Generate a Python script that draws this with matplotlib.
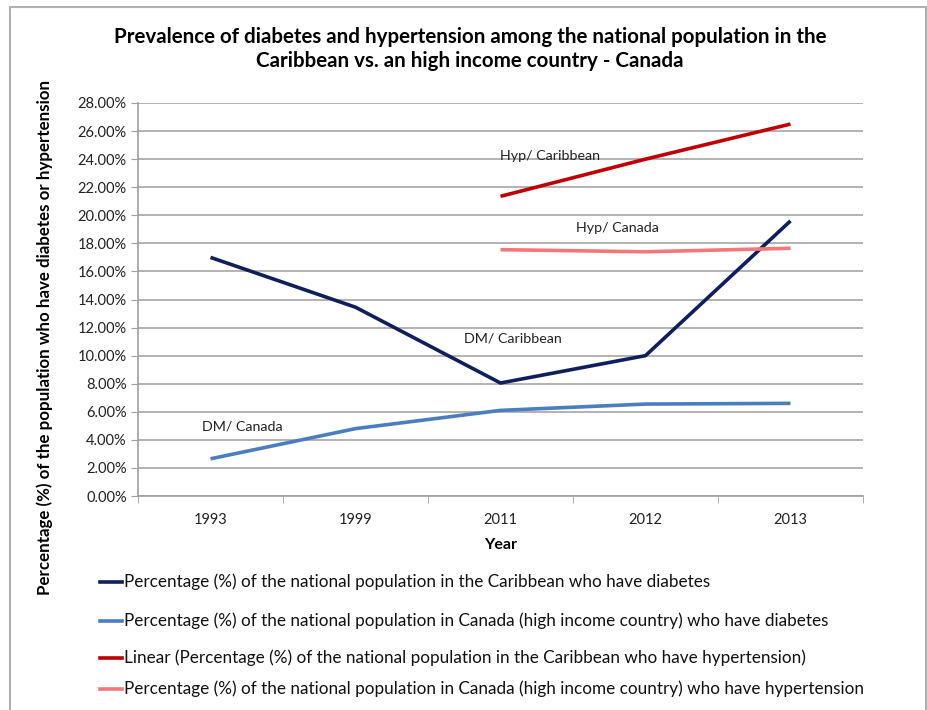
import matplotlib.pyplot as plt
from matplotlib.patches import Rectangle
from matplotlib.ticker import FuncFormatter, FixedLocator
import numpy as np

plt.rcParams['font.family'] = ['Lato', 'DejaVu Sans']

years = ['1993', '1999', '2011', '2012', '2013']
dm_carib = [17.0, 13.45, 8.05, 10.0, 19.6]
dm_canada = [2.65, 4.8, 6.1, 6.55, 6.6]
hyp_carib = [None, None, 21.35, 24.0, 26.5]
hyp_canada = [None, None, 17.55, 17.4, 17.65]

legend_labels = [
    'Percentage (%) of the national population in the Caribbean who have diabetes',
    'Percentage (%) of the national population in Canada (high income country) who have diabetes',
    'Linear (Percentage (%) of the national population in the Caribbean who have hypertension)',
    'Percentage (%) of the national population in Canada (high income country) who have hypertension',
]
colors = ['#0f1f5c', '#4a7ebf', '#c00000', '#f4777a']

W, H = 927, 710
fig = plt.figure(figsize=(W / 100, H / 100), dpi=100)
ax = fig.add_axes([138 / W, 1 - 496 / H, (863 - 138) / W, (496 - 103) / H])

x = np.arange(len(years))
series = [dm_carib, dm_canada, hyp_carib, hyp_canada]
for vals, c in zip(series, colors):
    xs = [xi for xi, v in zip(x, vals) if v is not None]
    ys = [v for v in vals if v is not None]
    ax.plot(xs, ys, color=c, lw=2.6, solid_capstyle='butt')

ax.set_xlim(-0.5, 4.5)
ax.set_ylim(0, 28)
ax.set_yticks(np.arange(0, 28.1, 2))
ax.yaxis.set_major_formatter(FuncFormatter(lambda v, p: f'{v:.2f}%'))
ax.set_xticks(x)
ax.set_xticklabels(years)
ax.xaxis.set_minor_locator(FixedLocator(np.arange(-0.5, 4.6, 1)))
ax.tick_params(axis='x', which='major', length=0, pad=12, labelsize=10.5, labelcolor='#222222')
ax.tick_params(axis='x', which='minor', length=5, color='#a0a0a0', direction='out')
ax.tick_params(axis='y', length=5, color='#a0a0a0', labelsize=10.5, labelcolor='#222222', pad=3)
ax.grid(axis='y', color='#a6a6a6', lw=1.2)
ax.set_axisbelow(True)
for s in ['top', 'right']:
    ax.spines[s].set_visible(False)
for s in ['left', 'bottom']:
    ax.spines[s].set_color('#a0a0a0')
    ax.spines[s].set_linewidth(1.2)

ax.set_xlabel('Year', fontsize=11.5, fontweight='bold', labelpad=8)
fig.text(45 / W, 1 - 337 / H, 'Percentage (%) of the population who have diabetes or hypertension',
         rotation=90, ha='center', va='center', fontsize=12.2, fontweight='bold')

fig.text(470 / W, 1 - 49 / H,
         'Prevalence of diabetes and hypertension among the national population in the\n'
         'Caribbean vs. an high income country - Canada',
         ha='center', va='center', fontsize=14.8, fontweight='bold', linespacing=1.3)

ax.text(2.0, 23.8, 'Hyp/ Caribbean', fontsize=10.3, ha='left', va='bottom', color='#222222')
ax.text(2.52, 18.7, 'Hyp/ Canada', fontsize=10.3, ha='left', va='bottom', color='#222222')
ax.text(1.75, 10.8, 'DM/ Caribbean', fontsize=10.3, ha='left', va='bottom', color='#222222')
ax.text(-0.06, 4.5, 'DM/ Canada', fontsize=10.3, ha='left', va='bottom', color='#222222')

leg_y = [582, 621, 658, 689]
for lab, c, yy in zip(legend_labels, colors, leg_y):
    fy = 1 - yy / H
    fig.add_artist(plt.Line2D([100 / W, 122 / W], [fy, fy], color=c, lw=2.6,
                              transform=fig.transFigure))
    fig.text(124 / W, fy, lab, ha='left', va='center', fontsize=12.3, color='#111111')

fig.add_artist(Rectangle((10 / W, -0.01), (926 - 10) / W, 1 - 7 / H + 0.01,
                         transform=fig.transFigure, fill=False, edgecolor='#b0b0b0', lw=1.5))

fig.savefig('out.png', dpi=100)
